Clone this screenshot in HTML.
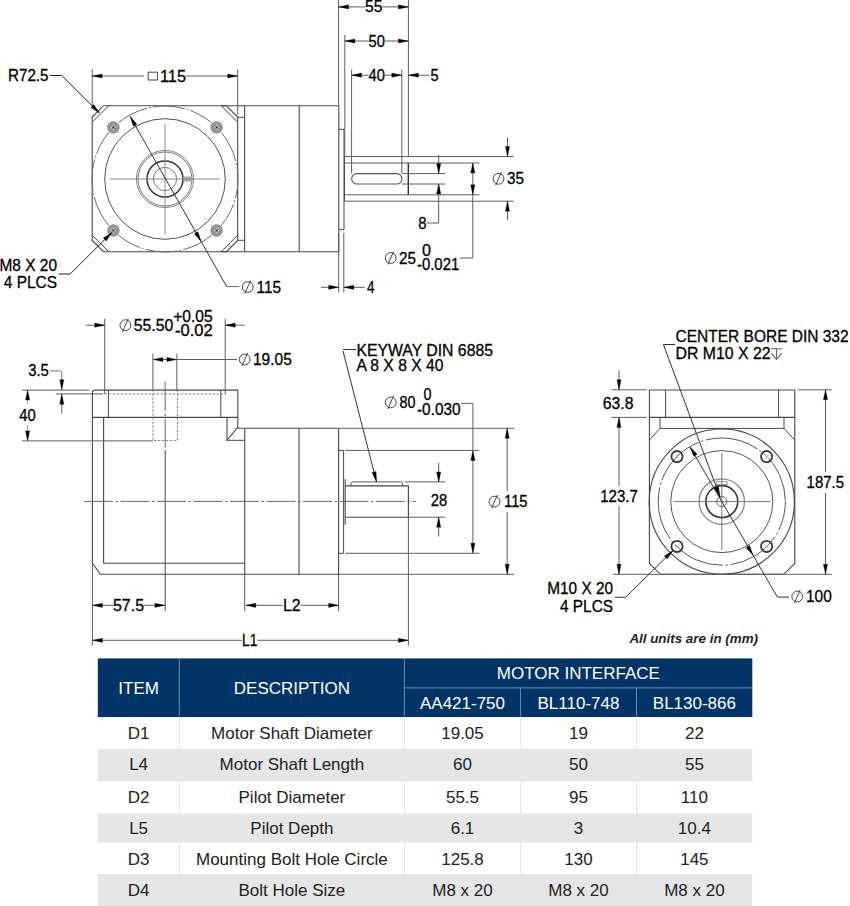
<!DOCTYPE html>
<html><head><meta charset="utf-8"><title>Gearbox drawing</title>
<style>html,body{margin:0;padding:0;background:#fff;} svg{display:block;font-family:"Liberation Sans",sans-serif;}</style>
</head><body>
<svg width="850" height="906" viewBox="0 0 850 906">
<rect width="850" height="906" fill="#fff"/>
<polygon points="103.5,105.7 226.4,105.7 237.7,117.0 237.7,240.4 226.4,251.7 103.5,251.7 92.2,240.4 92.2,117.0" fill="none" stroke="#484848" stroke-width="1.1" />
<line x1="92.2" y1="122.2" x2="108.7" y2="105.7" stroke="#484848" stroke-width="1.0" />
<line x1="221.2" y1="105.7" x2="237.7" y2="122.2" stroke="#484848" stroke-width="1.0" />
<line x1="237.7" y1="235.2" x2="221.2" y2="251.7" stroke="#484848" stroke-width="1.0" />
<line x1="108.7" y1="251.7" x2="92.2" y2="235.2" stroke="#484848" stroke-width="1.0" />
<line x1="221.2" y1="105.7" x2="339.0" y2="105.7" stroke="#484848" stroke-width="1.1" />
<line x1="221.2" y1="251.7" x2="339.0" y2="251.7" stroke="#484848" stroke-width="1.1" />
<circle cx="165.0" cy="179.0" r="73.0" fill="none" stroke="#6a6a6a" stroke-width="1.0" stroke-dasharray="32.2,2,2,2" stroke-dashoffset="12.6"/>
<circle cx="165.0" cy="179.0" r="60.3" fill="none" stroke="#505050" stroke-width="1.0" />
<circle cx="165.0" cy="179.0" r="28.6" fill="none" stroke="#888" stroke-width="1.0" />
<circle cx="165.0" cy="179.0" r="27.0" fill="none" stroke="#777" stroke-width="1.0" />
<circle cx="165.0" cy="179.0" r="18.0" fill="none" stroke="#333" stroke-width="1.5" />
<circle cx="165.0" cy="179.0" r="11.6" fill="none" stroke="#777" stroke-width="1.0" />
<rect x="183.5" y="176.5" width="8" height="5" fill="#aaa"/>
<line x1="110.0" y1="179.0" x2="220.0" y2="179.0" stroke="#888" stroke-width="1.0" />
<line x1="165.0" y1="124.0" x2="165.0" y2="234.0" stroke="#888" stroke-width="1.0" />
<circle cx="113.4" cy="127.4" r="5.7" fill="#979797" stroke="#888" stroke-width="1.0" />
<line x1="110.8" y1="127.4" x2="116.0" y2="127.4" stroke="#d0d0d0" stroke-width="1" />
<line x1="113.4" y1="124.8" x2="113.4" y2="130.0" stroke="#d0d0d0" stroke-width="1" />
<circle cx="113.4" cy="127.4" r="1.0" fill="#222" stroke="none" stroke-width="0" />
<line x1="109.0" y1="123.0" x2="107.5" y2="121.5" stroke="#aaa" stroke-width="1" />
<line x1="117.8" y1="131.8" x2="119.3" y2="133.3" stroke="#aaa" stroke-width="1" />
<circle cx="113.4" cy="230.5" r="5.7" fill="#979797" stroke="#888" stroke-width="1.0" />
<line x1="110.8" y1="230.5" x2="116.0" y2="230.5" stroke="#d0d0d0" stroke-width="1" />
<line x1="113.4" y1="227.9" x2="113.4" y2="233.1" stroke="#d0d0d0" stroke-width="1" />
<circle cx="113.4" cy="230.5" r="1.0" fill="#222" stroke="none" stroke-width="0" />
<line x1="109.0" y1="234.9" x2="107.5" y2="236.4" stroke="#aaa" stroke-width="1" />
<line x1="117.8" y1="226.1" x2="119.3" y2="224.6" stroke="#aaa" stroke-width="1" />
<circle cx="216.6" cy="127.4" r="5.7" fill="#979797" stroke="#888" stroke-width="1.0" />
<line x1="214.0" y1="127.4" x2="219.2" y2="127.4" stroke="#d0d0d0" stroke-width="1" />
<line x1="216.6" y1="124.8" x2="216.6" y2="130.0" stroke="#d0d0d0" stroke-width="1" />
<circle cx="216.6" cy="127.4" r="1.0" fill="#222" stroke="none" stroke-width="0" />
<line x1="221.0" y1="123.0" x2="222.5" y2="121.5" stroke="#aaa" stroke-width="1" />
<line x1="212.2" y1="131.8" x2="210.7" y2="133.3" stroke="#aaa" stroke-width="1" />
<circle cx="216.6" cy="230.5" r="5.7" fill="#979797" stroke="#888" stroke-width="1.0" />
<line x1="214.0" y1="230.5" x2="219.2" y2="230.5" stroke="#d0d0d0" stroke-width="1" />
<line x1="216.6" y1="227.9" x2="216.6" y2="233.1" stroke="#d0d0d0" stroke-width="1" />
<circle cx="216.6" cy="230.5" r="1.0" fill="#222" stroke="none" stroke-width="0" />
<line x1="221.0" y1="234.9" x2="222.5" y2="236.4" stroke="#aaa" stroke-width="1" />
<line x1="212.2" y1="226.1" x2="210.7" y2="224.6" stroke="#aaa" stroke-width="1" />
<line x1="92.2" y1="69.5" x2="92.2" y2="105.7" stroke="#5e5e5e" stroke-width="1.0" />
<line x1="237.7" y1="69.5" x2="237.7" y2="114.7" stroke="#5e5e5e" stroke-width="1.0" />
<line x1="92.2" y1="76.0" x2="144.0" y2="76.0" stroke="#5e5e5e" stroke-width="1.0" />
<line x1="186.0" y1="76.0" x2="237.7" y2="76.0" stroke="#5e5e5e" stroke-width="1.0" />
<polygon points="92.2,76.0 102.2,73.9 102.2,78.1" fill="#000" stroke="#000" stroke-width="0.3" />
<polygon points="237.7,76.0 227.7,78.1 227.7,73.9" fill="#000" stroke="#000" stroke-width="0.3" />
<rect x="148.2" y="72.2" width="9.3" height="7.8" fill="none" stroke="#555" stroke-width="1.1"/>
<text x="160.0" y="81.5" font-size="16.5" text-anchor="start" fill="#000" stroke="#000" stroke-width="0.3" font-weight="normal" font-style="normal" textLength="26.0" lengthAdjust="spacingAndGlyphs">115</text>
<text x="8.0" y="80.7" font-size="16.5" text-anchor="start" fill="#000" stroke="#000" stroke-width="0.3" font-weight="normal" font-style="normal" textLength="40.5" lengthAdjust="spacingAndGlyphs">R72.5</text>
<polyline points="49.8,75.5 61.8,75.5 99.4,113.1" fill="none" stroke="#222" stroke-width="1.0" />
<polygon points="99.4,113.1 90.8,107.5 93.8,104.5" fill="#000" stroke="#000" stroke-width="0.3" />
<line x1="130.2" y1="116.6" x2="226.7" y2="286.6" stroke="#333" stroke-width="1.0" />
<polygon points="130.2,116.6 137.0,124.3 133.3,126.3" fill="#000" stroke="#000" stroke-width="0.3" />
<polygon points="201.1,241.4 194.3,233.8 198.0,231.7" fill="#000" stroke="#000" stroke-width="0.3" />
<line x1="226.6" y1="286.6" x2="239.3" y2="286.6" stroke="#666" stroke-width="1.0" />
<circle cx="247.7" cy="287.0" r="5.4" fill="none" stroke="#444" stroke-width="1.0" />
<line x1="244.8" y1="293.6" x2="250.6" y2="280.4" stroke="#444" stroke-width="1.0" />
<text x="256.5" y="292.5" font-size="16.5" text-anchor="start" fill="#000" stroke="#000" stroke-width="0.3" font-weight="normal" font-style="normal" textLength="24.5" lengthAdjust="spacingAndGlyphs">115</text>
<text x="-0.5" y="270.8" font-size="16.5" text-anchor="start" fill="#000" stroke="#000" stroke-width="0.3" font-weight="normal" font-style="normal" textLength="57.5" lengthAdjust="spacingAndGlyphs">M8 X 20</text>
<text x="3.8" y="288.1" font-size="16.5" text-anchor="start" fill="#000" stroke="#000" stroke-width="0.3" font-weight="normal" font-style="normal" textLength="53.2" lengthAdjust="spacingAndGlyphs">4 PLCS</text>
<polyline points="58.4,274.0 70.2,274.0 111.9,232.5" fill="none" stroke="#222" stroke-width="1.0" />
<polygon points="111.9,232.5 106.3,241.0 103.3,238.1" fill="#000" stroke="#000" stroke-width="0.3" />
<line x1="244.6" y1="105.7" x2="244.6" y2="251.7" stroke="#484848" stroke-width="1.1" />
<line x1="299.2" y1="105.7" x2="299.2" y2="251.7" stroke="#484848" stroke-width="1.1" />
<line x1="338.8" y1="105.7" x2="338.8" y2="251.7" stroke="#484848" stroke-width="1.1" />
<line x1="237.7" y1="117.3" x2="244.6" y2="117.3" stroke="#484848" stroke-width="1.0" />
<line x1="237.7" y1="240.3" x2="244.6" y2="240.3" stroke="#484848" stroke-width="1.0" />
<polyline points="338.8,129.4 344.0,129.4 344.0,229.4 338.8,229.4" fill="none" stroke="#484848" stroke-width="1.0" />
<line x1="344.5" y1="156.5" x2="513.5" y2="156.5" stroke="#5e5e5e" stroke-width="1.0" />
<line x1="344.5" y1="201.2" x2="513.5" y2="201.2" stroke="#5e5e5e" stroke-width="1.0" />
<line x1="344.5" y1="156.5" x2="344.5" y2="201.2" stroke="#484848" stroke-width="1.0" />
<line x1="345.0" y1="163.0" x2="479.4" y2="163.0" stroke="#5e5e5e" stroke-width="1.0" />
<line x1="345.0" y1="194.8" x2="479.4" y2="194.8" stroke="#5e5e5e" stroke-width="1.0" />
<line x1="408.3" y1="163.0" x2="408.3" y2="194.8" stroke="#333" stroke-width="1.4" />
<rect x="351.7" y="173.6" width="50.2" height="10.4" rx="5" fill="none" stroke="#555" stroke-width="1.1"/>
<line x1="402.0" y1="173.6" x2="445.3" y2="173.6" stroke="#5e5e5e" stroke-width="1.0" />
<line x1="402.0" y1="184.0" x2="445.3" y2="184.0" stroke="#5e5e5e" stroke-width="1.0" />
<line x1="338.6" y1="0.0" x2="338.6" y2="105.7" stroke="#5e5e5e" stroke-width="1.0" />
<line x1="408.4" y1="0.0" x2="408.4" y2="156.5" stroke="#5e5e5e" stroke-width="1.0" />
<line x1="338.6" y1="6.9" x2="365.0" y2="6.9" stroke="#5e5e5e" stroke-width="1.0" />
<line x1="382.4" y1="6.9" x2="408.4" y2="6.9" stroke="#5e5e5e" stroke-width="1.0" />
<polygon points="338.6,6.9 348.6,4.8 348.6,9.0" fill="#000" stroke="#000" stroke-width="0.3" />
<polygon points="408.4,6.9 398.4,9.0 398.4,4.8" fill="#000" stroke="#000" stroke-width="0.3" />
<text x="365.0" y="12.4" font-size="16.5" text-anchor="start" fill="#000" stroke="#000" stroke-width="0.3" font-weight="normal" font-style="normal" textLength="17.4" lengthAdjust="spacingAndGlyphs">55</text>
<line x1="344.8" y1="35.0" x2="344.8" y2="156.5" stroke="#5e5e5e" stroke-width="1.0" />
<line x1="344.8" y1="41.0" x2="368.6" y2="41.0" stroke="#5e5e5e" stroke-width="1.0" />
<line x1="385.0" y1="41.0" x2="408.4" y2="41.0" stroke="#5e5e5e" stroke-width="1.0" />
<polygon points="344.8,41.0 354.8,38.9 354.8,43.1" fill="#000" stroke="#000" stroke-width="0.3" />
<polygon points="408.4,41.0 398.4,43.1 398.4,38.9" fill="#000" stroke="#000" stroke-width="0.3" />
<text x="368.6" y="46.5" font-size="16.5" text-anchor="start" fill="#000" stroke="#000" stroke-width="0.3" font-weight="normal" font-style="normal" textLength="16.4" lengthAdjust="spacingAndGlyphs">50</text>
<line x1="351.6" y1="69.6" x2="351.6" y2="173.6" stroke="#5e5e5e" stroke-width="1.0" />
<line x1="401.8" y1="69.6" x2="401.8" y2="173.6" stroke="#5e5e5e" stroke-width="1.0" />
<line x1="351.6" y1="75.2" x2="368.6" y2="75.2" stroke="#5e5e5e" stroke-width="1.0" />
<line x1="385.0" y1="75.2" x2="401.8" y2="75.2" stroke="#5e5e5e" stroke-width="1.0" />
<polygon points="351.6,75.2 361.6,73.1 361.6,77.3" fill="#000" stroke="#000" stroke-width="0.3" />
<polygon points="401.8,75.2 391.8,77.3 391.8,73.1" fill="#000" stroke="#000" stroke-width="0.3" />
<text x="368.6" y="80.7" font-size="16.5" text-anchor="start" fill="#000" stroke="#000" stroke-width="0.3" font-weight="normal" font-style="normal" textLength="16.4" lengthAdjust="spacingAndGlyphs">40</text>
<line x1="408.4" y1="75.2" x2="429.0" y2="75.2" stroke="#5e5e5e" stroke-width="1.0" />
<polygon points="408.4,75.2 418.4,73.1 418.4,77.3" fill="#000" stroke="#000" stroke-width="0.3" />
<text x="430.4" y="80.7" font-size="16.5" text-anchor="start" fill="#000" stroke="#000" stroke-width="0.3" font-weight="normal" font-style="normal" textLength="8.1" lengthAdjust="spacingAndGlyphs">5</text>
<line x1="507.5" y1="137.6" x2="507.5" y2="156.5" stroke="#5e5e5e" stroke-width="1.0" />
<polygon points="507.5,156.5 505.4,146.5 509.6,146.5" fill="#000" stroke="#000" stroke-width="0.3" />
<line x1="507.5" y1="201.2" x2="507.5" y2="220.0" stroke="#5e5e5e" stroke-width="1.0" />
<polygon points="507.5,201.2 509.6,211.2 505.4,211.2" fill="#000" stroke="#000" stroke-width="0.3" />
<circle cx="498.5" cy="178.8" r="5.4" fill="none" stroke="#444" stroke-width="1.0" />
<line x1="495.6" y1="185.4" x2="501.4" y2="172.2" stroke="#444" stroke-width="1.0" />
<text x="507.0" y="184.3" font-size="16.5" text-anchor="start" fill="#000" stroke="#000" stroke-width="0.3" font-weight="normal" font-style="normal" textLength="17.0" lengthAdjust="spacingAndGlyphs">35</text>
<line x1="438.7" y1="154.8" x2="438.7" y2="173.6" stroke="#5e5e5e" stroke-width="1.0" />
<polygon points="438.7,173.6 436.6,163.6 440.8,163.6" fill="#000" stroke="#000" stroke-width="0.3" />
<polyline points="438.7,184.0 438.7,223.0 426.5,223.0" fill="none" stroke="#5e5e5e" stroke-width="1.0" />
<polygon points="438.7,184.0 440.8,194.0 436.6,194.0" fill="#000" stroke="#000" stroke-width="0.3" />
<text x="418.2" y="228.5" font-size="16.5" text-anchor="start" fill="#000" stroke="#000" stroke-width="0.3" font-weight="normal" font-style="normal" textLength="8.3" lengthAdjust="spacingAndGlyphs">8</text>
<polyline points="472.8,163.0 472.8,258.0 460.0,258.0" fill="none" stroke="#5e5e5e" stroke-width="1.0" />
<polygon points="472.8,163.0 474.9,173.0 470.7,173.0" fill="#000" stroke="#000" stroke-width="0.3" />
<polygon points="472.8,194.8 470.7,184.8 474.9,184.8" fill="#000" stroke="#000" stroke-width="0.3" />
<circle cx="390.7" cy="258.0" r="5.4" fill="none" stroke="#444" stroke-width="1.0" />
<line x1="387.8" y1="264.6" x2="393.6" y2="251.4" stroke="#444" stroke-width="1.0" />
<text x="399.0" y="263.5" font-size="16.5" text-anchor="start" fill="#000" stroke="#000" stroke-width="0.3" font-weight="normal" font-style="normal" textLength="17.0" lengthAdjust="spacingAndGlyphs">25</text>
<text x="422.0" y="256.0" font-size="16.5" text-anchor="start" fill="#000" stroke="#000" stroke-width="0.3" font-weight="normal" font-style="normal" textLength="9.0" lengthAdjust="spacingAndGlyphs">0</text>
<text x="417.0" y="269.9" font-size="16.5" text-anchor="start" fill="#000" stroke="#000" stroke-width="0.3" font-weight="normal" font-style="normal" textLength="42.2" lengthAdjust="spacingAndGlyphs">-0.021</text>
<line x1="338.7" y1="233.0" x2="338.7" y2="292.5" stroke="#5e5e5e" stroke-width="1.0" />
<line x1="343.8" y1="233.0" x2="343.8" y2="292.5" stroke="#5e5e5e" stroke-width="1.0" />
<line x1="321.0" y1="287.3" x2="338.7" y2="287.3" stroke="#5e5e5e" stroke-width="1.0" />
<polygon points="338.7,287.3 328.7,289.4 328.7,285.2" fill="#000" stroke="#000" stroke-width="0.3" />
<line x1="343.8" y1="287.3" x2="365.0" y2="287.3" stroke="#5e5e5e" stroke-width="1.0" />
<polygon points="343.8,287.3 353.8,285.2 353.8,289.4" fill="#000" stroke="#000" stroke-width="0.3" />
<text x="367.0" y="292.8" font-size="16.5" text-anchor="start" fill="#000" stroke="#000" stroke-width="0.3" font-weight="normal" font-style="normal" textLength="7.5" lengthAdjust="spacingAndGlyphs">4</text>
<!--VIEW3-->
<path d="M92.4,395 V392.6 Q92.4,390.1 94.9,390.1" fill="none" stroke="#484848" stroke-width="1.1"/>
<polyline points="94.9,390.1 237.8,390.1 237.8,427.3 227.0,440.3 227.0,417.4" fill="none" stroke="#484848" stroke-width="1.1" />
<line x1="92.4" y1="393.1" x2="92.4" y2="563.3" stroke="#484848" stroke-width="1.1" />
<line x1="92.4" y1="417.4" x2="237.8" y2="417.4" stroke="#484848" stroke-width="1.1" />
<line x1="108.4" y1="390.1" x2="108.4" y2="417.4" stroke="#484848" stroke-width="1.0" />
<line x1="220.8" y1="390.1" x2="220.8" y2="417.4" stroke="#484848" stroke-width="1.0" />
<line x1="104.5" y1="393.9" x2="226.0" y2="393.9" stroke="#888" stroke-width="1.0" stroke-dasharray="2.5,1.5"/>
<line x1="227.0" y1="440.3" x2="244.7" y2="440.3" stroke="#484848" stroke-width="1.0" />
<line x1="237.8" y1="428.3" x2="338.6" y2="428.3" stroke="#484848" stroke-width="1.1" />
<line x1="103.6" y1="417.4" x2="103.6" y2="563.3" stroke="#484848" stroke-width="1.1" />
<line x1="103.6" y1="563.3" x2="244.7" y2="563.3" stroke="#484848" stroke-width="1.1" />
<polyline points="92.4,563.3 100.4,574.3 338.6,574.3" fill="none" stroke="#484848" stroke-width="1.1" />
<line x1="244.7" y1="428.3" x2="244.7" y2="574.3" stroke="#484848" stroke-width="1.1" />
<line x1="299.0" y1="428.3" x2="299.0" y2="574.3" stroke="#484848" stroke-width="1.1" />
<line x1="338.6" y1="428.3" x2="338.6" y2="574.3" stroke="#484848" stroke-width="1.1" />
<rect x="153" y="390.1" width="24.5" height="50.4" fill="none" stroke="#888" stroke-width="1" stroke-dasharray="2.5,1.5"/>
<line x1="165.2" y1="382.0" x2="165.2" y2="451.0" stroke="#666" stroke-width="1.0" stroke-dasharray="29,2.5,2.5,2.5"/>
<line x1="165.2" y1="451.0" x2="165.2" y2="611.0" stroke="#444" stroke-width="1.0" />
<line x1="84.0" y1="501.4" x2="416.0" y2="501.4" stroke="#666" stroke-width="1.0" stroke-dasharray="29,2.5,2.5,2.5"/>
<polyline points="338.6,450.4 343.6,450.4 343.6,553.3 338.6,553.3" fill="none" stroke="#484848" stroke-width="1.0" />
<line x1="345.2" y1="479.3" x2="345.2" y2="524.7" stroke="#484848" stroke-width="1.1" />
<polyline points="345.2,485.9 408.4,485.9 408.4,517.2 345.2,517.2" fill="none" stroke="#444" stroke-width="1.1" />
<path d="M351,485.9 V483.5 Q351,481.9 353,481.9 H400.5 Q402.5,481.9 402.5,483.5 V485.9" fill="none" stroke="#555" stroke-width="1"/>
<text x="28.2" y="376.3" font-size="16.5" text-anchor="start" fill="#000" stroke="#000" stroke-width="0.3" font-weight="normal" font-style="normal" textLength="20.6" lengthAdjust="spacingAndGlyphs">3.5</text>
<path d="M50,370.9 H59.8 Q61.8,370.9 61.8,372.9 V389.7" fill="none" stroke="#777" stroke-width="1"/>
<polygon points="61.8,389.8 59.7,379.8 63.9,379.8" fill="#000" stroke="#000" stroke-width="0.3" />
<line x1="61.8" y1="394.2" x2="61.8" y2="413.2" stroke="#5e5e5e" stroke-width="1.0" />
<polygon points="61.8,394.2 63.9,404.2 59.7,404.2" fill="#000" stroke="#000" stroke-width="0.3" />
<line x1="21.8" y1="390.1" x2="89.4" y2="390.1" stroke="#5e5e5e" stroke-width="1.0" />
<line x1="55.9" y1="393.9" x2="103.0" y2="393.9" stroke="#5e5e5e" stroke-width="1.0" />
<line x1="21.8" y1="440.9" x2="153.0" y2="440.9" stroke="#5e5e5e" stroke-width="1.0" />
<line x1="27.6" y1="390.1" x2="27.6" y2="404.0" stroke="#999" stroke-width="1.0" />
<line x1="27.6" y1="425.0" x2="27.6" y2="440.9" stroke="#999" stroke-width="1.0" />
<polygon points="27.6,390.1 29.7,400.1 25.5,400.1" fill="#000" stroke="#000" stroke-width="0.3" />
<polygon points="27.6,440.9 25.5,430.9 29.7,430.9" fill="#000" stroke="#000" stroke-width="0.3" />
<text x="19.2" y="420.5" font-size="16.5" text-anchor="start" fill="#000" stroke="#000" stroke-width="0.3" font-weight="normal" font-style="normal" textLength="16.4" lengthAdjust="spacingAndGlyphs">40</text>
<line x1="104.7" y1="318.8" x2="104.7" y2="393.9" stroke="#5e5e5e" stroke-width="1.0" />
<line x1="225.2" y1="318.8" x2="225.2" y2="393.9" stroke="#5e5e5e" stroke-width="1.0" />
<line x1="85.8" y1="325.2" x2="104.7" y2="325.2" stroke="#5e5e5e" stroke-width="1.0" />
<polygon points="104.7,325.2 94.7,327.3 94.7,323.1" fill="#000" stroke="#000" stroke-width="0.3" />
<line x1="225.2" y1="325.2" x2="244.7" y2="325.2" stroke="#5e5e5e" stroke-width="1.0" />
<polygon points="225.2,325.2 235.2,323.1 235.2,327.3" fill="#000" stroke="#000" stroke-width="0.3" />
<circle cx="125.4" cy="325.2" r="5.4" fill="none" stroke="#444" stroke-width="1.0" />
<line x1="122.5" y1="331.8" x2="128.3" y2="318.6" stroke="#444" stroke-width="1.0" />
<text x="133.7" y="330.7" font-size="16.5" text-anchor="start" fill="#000" stroke="#000" stroke-width="0.3" font-weight="normal" font-style="normal" textLength="39.5" lengthAdjust="spacingAndGlyphs">55.50</text>
<text x="173.2" y="322.0" font-size="16.5" text-anchor="start" fill="#000" stroke="#000" stroke-width="0.3" font-weight="normal" font-style="normal" textLength="39.5" lengthAdjust="spacingAndGlyphs">+0.05</text>
<text x="175.0" y="336.0" font-size="16.5" text-anchor="start" fill="#000" stroke="#000" stroke-width="0.3" font-weight="normal" font-style="normal" textLength="37.7" lengthAdjust="spacingAndGlyphs">-0.02</text>
<line x1="152.9" y1="353.5" x2="152.9" y2="390.1" stroke="#5e5e5e" stroke-width="1.0" />
<line x1="176.8" y1="353.5" x2="176.8" y2="390.1" stroke="#5e5e5e" stroke-width="1.0" />
<line x1="162.0" y1="359.5" x2="167.0" y2="359.5" stroke="#5e5e5e" stroke-width="1.0" />
<polygon points="152.9,359.5 162.9,357.4 162.9,361.6" fill="#000" stroke="#000" stroke-width="0.3" />
<polygon points="176.8,359.5 166.8,361.6 166.8,357.4" fill="#000" stroke="#000" stroke-width="0.3" />
<line x1="176.8" y1="359.5" x2="237.0" y2="359.5" stroke="#5e5e5e" stroke-width="1.0" />
<circle cx="244.7" cy="359.5" r="5.4" fill="none" stroke="#444" stroke-width="1.0" />
<line x1="241.8" y1="366.1" x2="247.6" y2="352.9" stroke="#444" stroke-width="1.0" />
<text x="253.0" y="365.0" font-size="16.5" text-anchor="start" fill="#000" stroke="#000" stroke-width="0.3" font-weight="normal" font-style="normal" textLength="38.8" lengthAdjust="spacingAndGlyphs">19.05</text>
<line x1="92.4" y1="563.0" x2="92.4" y2="645.6" stroke="#5e5e5e" stroke-width="1.0" />
<line x1="92.5" y1="605.3" x2="113.0" y2="605.3" stroke="#5e5e5e" stroke-width="1.0" />
<line x1="144.0" y1="605.3" x2="164.7" y2="605.3" stroke="#5e5e5e" stroke-width="1.0" />
<polygon points="92.5,605.3 102.5,603.2 102.5,607.4" fill="#000" stroke="#000" stroke-width="0.3" />
<polygon points="164.9,605.3 154.9,607.4 154.9,603.2" fill="#000" stroke="#000" stroke-width="0.3" />
<text x="113.0" y="610.8" font-size="16.5" text-anchor="start" fill="#000" stroke="#000" stroke-width="0.3" font-weight="normal" font-style="normal" textLength="31.0" lengthAdjust="spacingAndGlyphs">57.5</text>
<line x1="244.7" y1="574.0" x2="244.7" y2="611.5" stroke="#5e5e5e" stroke-width="1.0" />
<line x1="338.6" y1="574.0" x2="338.6" y2="611.5" stroke="#5e5e5e" stroke-width="1.0" />
<line x1="245.8" y1="605.3" x2="283.0" y2="605.3" stroke="#5e5e5e" stroke-width="1.0" />
<line x1="300.6" y1="605.3" x2="338.6" y2="605.3" stroke="#5e5e5e" stroke-width="1.0" />
<polygon points="245.8,605.3 255.8,603.2 255.8,607.4" fill="#000" stroke="#000" stroke-width="0.3" />
<polygon points="338.6,605.3 328.6,607.4 328.6,603.2" fill="#000" stroke="#000" stroke-width="0.3" />
<text x="283.0" y="610.8" font-size="16.5" text-anchor="start" fill="#000" stroke="#000" stroke-width="0.3" font-weight="normal" font-style="normal" textLength="17.6" lengthAdjust="spacingAndGlyphs">L2</text>
<line x1="408.4" y1="517.2" x2="408.4" y2="645.6" stroke="#5e5e5e" stroke-width="1.0" />
<line x1="92.5" y1="640.3" x2="242.0" y2="640.3" stroke="#5e5e5e" stroke-width="1.0" />
<line x1="257.4" y1="640.3" x2="408.4" y2="640.3" stroke="#5e5e5e" stroke-width="1.0" />
<polygon points="92.5,640.3 102.5,638.2 102.5,642.4" fill="#000" stroke="#000" stroke-width="0.3" />
<polygon points="408.4,640.3 398.4,642.4 398.4,638.2" fill="#000" stroke="#000" stroke-width="0.3" />
<text x="242.0" y="645.8" font-size="16.5" text-anchor="start" fill="#000" stroke="#000" stroke-width="0.3" font-weight="normal" font-style="normal" textLength="15.4" lengthAdjust="spacingAndGlyphs">L1</text>
<text x="356.4" y="356.0" font-size="16.5" text-anchor="start" fill="#000" stroke="#000" stroke-width="0.3" font-weight="normal" font-style="normal" textLength="136.6" lengthAdjust="spacingAndGlyphs">KEYWAY DIN 6885</text>
<text x="356.4" y="370.8" font-size="16.5" text-anchor="start" fill="#000" stroke="#000" stroke-width="0.3" font-weight="normal" font-style="normal" textLength="87.0" lengthAdjust="spacingAndGlyphs">A 8 X 8 X 40</text>
<line x1="343.0" y1="349.5" x2="356.0" y2="349.5" stroke="#333" stroke-width="1.0" />
<line x1="343.0" y1="351.0" x2="376.5" y2="481.8" stroke="#333" stroke-width="1.0" />
<polygon points="376.5,481.8 372.0,472.6 376.1,471.6" fill="#000" stroke="#000" stroke-width="0.3" />
<circle cx="390.7" cy="402.4" r="5.4" fill="none" stroke="#444" stroke-width="1.0" />
<line x1="387.8" y1="409.0" x2="393.6" y2="395.8" stroke="#444" stroke-width="1.0" />
<text x="399.4" y="407.9" font-size="16.5" text-anchor="start" fill="#000" stroke="#000" stroke-width="0.3" font-weight="normal" font-style="normal" textLength="16.0" lengthAdjust="spacingAndGlyphs">80</text>
<text x="423.4" y="399.8" font-size="16.5" text-anchor="start" fill="#000" stroke="#000" stroke-width="0.3" font-weight="normal" font-style="normal" textLength="8.0" lengthAdjust="spacingAndGlyphs">0</text>
<text x="417.0" y="414.7" font-size="16.5" text-anchor="start" fill="#000" stroke="#000" stroke-width="0.3" font-weight="normal" font-style="normal" textLength="43.6" lengthAdjust="spacingAndGlyphs">-0.030</text>
<polyline points="461.0,403.4 472.9,403.4 472.9,553.3" fill="none" stroke="#5e5e5e" stroke-width="1.0" />
<polygon points="472.9,450.4 475.0,460.4 470.8,460.4" fill="#000" stroke="#000" stroke-width="0.3" />
<polygon points="472.9,553.3 470.8,543.3 475.0,543.3" fill="#000" stroke="#000" stroke-width="0.3" />
<line x1="345.3" y1="450.4" x2="479.4" y2="450.4" stroke="#5e5e5e" stroke-width="1.0" />
<line x1="345.3" y1="553.3" x2="479.4" y2="553.3" stroke="#5e5e5e" stroke-width="1.0" />
<line x1="404.8" y1="481.9" x2="445.3" y2="481.9" stroke="#5e5e5e" stroke-width="1.0" />
<line x1="408.8" y1="517.2" x2="445.3" y2="517.2" stroke="#5e5e5e" stroke-width="1.0" />
<line x1="438.7" y1="463.0" x2="438.7" y2="481.9" stroke="#5e5e5e" stroke-width="1.0" />
<polygon points="438.7,481.9 436.6,471.9 440.8,471.9" fill="#000" stroke="#000" stroke-width="0.3" />
<line x1="438.7" y1="517.2" x2="438.7" y2="536.5" stroke="#5e5e5e" stroke-width="1.0" />
<polygon points="438.7,517.2 440.8,527.2 436.6,527.2" fill="#000" stroke="#000" stroke-width="0.3" />
<text x="430.7" y="505.7" font-size="16.5" text-anchor="start" fill="#000" stroke="#000" stroke-width="0.3" font-weight="normal" font-style="normal" textLength="16.5" lengthAdjust="spacingAndGlyphs">28</text>
<line x1="338.6" y1="428.3" x2="514.0" y2="428.3" stroke="#5e5e5e" stroke-width="1.0" />
<line x1="338.6" y1="574.3" x2="514.0" y2="574.3" stroke="#5e5e5e" stroke-width="1.0" />
<line x1="507.2" y1="428.3" x2="507.2" y2="491.0" stroke="#5e5e5e" stroke-width="1.0" />
<line x1="507.2" y1="512.0" x2="507.2" y2="574.3" stroke="#5e5e5e" stroke-width="1.0" />
<polygon points="507.2,428.3 509.3,438.3 505.1,438.3" fill="#000" stroke="#000" stroke-width="0.3" />
<polygon points="507.2,574.3 505.1,564.3 509.3,564.3" fill="#000" stroke="#000" stroke-width="0.3" />
<circle cx="494.5" cy="501.6" r="5.4" fill="none" stroke="#444" stroke-width="1.0" />
<line x1="491.6" y1="508.2" x2="497.4" y2="495.0" stroke="#444" stroke-width="1.0" />
<text x="504.0" y="507.1" font-size="16.5" text-anchor="start" fill="#000" stroke="#000" stroke-width="0.3" font-weight="normal" font-style="normal" textLength="23.6" lengthAdjust="spacingAndGlyphs">115</text>
<!--VIEW4-->
<polygon points="649.4,390.0 794.8,390.0 794.8,563.5 783.6,574.3 660.6,574.3 649.4,563.5" fill="none" stroke="#484848" stroke-width="1.1" />
<line x1="649.4" y1="417.4" x2="794.8" y2="417.4" stroke="#484848" stroke-width="1.1" />
<line x1="665.6" y1="390.0" x2="665.6" y2="417.4" stroke="#484848" stroke-width="1.0" />
<line x1="778.6" y1="390.0" x2="778.6" y2="417.4" stroke="#484848" stroke-width="1.0" />
<polyline points="649.4,440.0 660.0,428.4 660.0,417.4" fill="none" stroke="#484848" stroke-width="1.0" />
<polyline points="794.8,440.0 784.0,428.4 784.0,417.4" fill="none" stroke="#484848" stroke-width="1.0" />
<line x1="660.0" y1="428.4" x2="784.0" y2="428.4" stroke="#484848" stroke-width="1.0" />
<circle cx="721.8" cy="501.6" r="72.6" fill="none" stroke="#444" stroke-width="1.1" />
<circle cx="721.8" cy="501.6" r="63.6" fill="none" stroke="#555" stroke-width="1.0" stroke-dasharray="54,2.5,2.5,2.5" stroke-dashoffset="24.5"/>
<circle cx="721.8" cy="501.6" r="51.0" fill="none" stroke="#555" stroke-width="1.0" />
<circle cx="721.8" cy="501.6" r="22.7" fill="none" stroke="#8a8a8a" stroke-width="1.3" />
<circle cx="721.8" cy="501.6" r="16.0" fill="none" stroke="#333" stroke-width="1.6" />
<circle cx="721.8" cy="501.6" r="5.1" fill="none" stroke="#666" stroke-width="1.0" />
<rect x="716.3" y="481.7" width="10.8" height="3" fill="none" stroke="#888" stroke-width="0.9"/>
<line x1="673.6" y1="501.6" x2="770.0" y2="501.6" stroke="#777" stroke-width="1.0" />
<line x1="721.8" y1="453.0" x2="721.8" y2="550.0" stroke="#777" stroke-width="1.0" />
<circle cx="677.0" cy="456.6" r="5.6" fill="none" stroke="#3a3a3a" stroke-width="1.8" />
<line x1="674.7" y1="454.3" x2="679.3" y2="458.9" stroke="#999" stroke-width="0.8" />
<line x1="674.7" y1="458.9" x2="679.3" y2="454.3" stroke="#999" stroke-width="0.8" />
<circle cx="677.0" cy="546.4" r="5.6" fill="none" stroke="#3a3a3a" stroke-width="1.8" />
<line x1="674.7" y1="544.1" x2="679.3" y2="548.7" stroke="#999" stroke-width="0.8" />
<line x1="674.7" y1="548.7" x2="679.3" y2="544.1" stroke="#999" stroke-width="0.8" />
<circle cx="766.6" cy="456.6" r="5.6" fill="none" stroke="#3a3a3a" stroke-width="1.8" />
<line x1="764.3" y1="454.3" x2="768.9" y2="458.9" stroke="#999" stroke-width="0.8" />
<line x1="764.3" y1="458.9" x2="768.9" y2="454.3" stroke="#999" stroke-width="0.8" />
<circle cx="766.6" cy="546.4" r="5.6" fill="none" stroke="#3a3a3a" stroke-width="1.8" />
<line x1="764.3" y1="544.1" x2="768.9" y2="548.7" stroke="#999" stroke-width="0.8" />
<line x1="764.3" y1="548.7" x2="768.9" y2="544.1" stroke="#999" stroke-width="0.8" />
<line x1="611.4" y1="389.8" x2="646.6" y2="389.8" stroke="#5e5e5e" stroke-width="1.0" />
<line x1="611.4" y1="417.4" x2="646.6" y2="417.4" stroke="#5e5e5e" stroke-width="1.0" />
<line x1="798.0" y1="389.8" x2="831.7" y2="389.8" stroke="#5e5e5e" stroke-width="1.0" />
<line x1="613.0" y1="574.3" x2="831.7" y2="574.3" stroke="#5e5e5e" stroke-width="1.0" />
<line x1="619.0" y1="370.5" x2="619.0" y2="389.8" stroke="#5e5e5e" stroke-width="1.0" />
<polygon points="619.0,389.8 616.9,379.8 621.1,379.8" fill="#000" stroke="#000" stroke-width="0.3" />
<text x="602.8" y="408.7" font-size="16.5" text-anchor="start" fill="#000" stroke="#000" stroke-width="0.3" font-weight="normal" font-style="normal" textLength="30.6" lengthAdjust="spacingAndGlyphs">63.8</text>
<line x1="619.0" y1="417.4" x2="619.0" y2="486.0" stroke="#5e5e5e" stroke-width="1.0" />
<line x1="619.0" y1="506.0" x2="619.0" y2="574.3" stroke="#5e5e5e" stroke-width="1.0" />
<polygon points="619.0,417.4 621.1,427.4 616.9,427.4" fill="#000" stroke="#000" stroke-width="0.3" />
<polygon points="619.0,574.3 616.9,564.3 621.1,564.3" fill="#000" stroke="#000" stroke-width="0.3" />
<text x="600.2" y="502.1" font-size="16.5" text-anchor="start" fill="#000" stroke="#000" stroke-width="0.3" font-weight="normal" font-style="normal" textLength="37.6" lengthAdjust="spacingAndGlyphs">123.7</text>
<line x1="825.5" y1="389.8" x2="825.5" y2="472.0" stroke="#5e5e5e" stroke-width="1.0" />
<line x1="825.5" y1="493.0" x2="825.5" y2="574.3" stroke="#5e5e5e" stroke-width="1.0" />
<polygon points="825.5,389.8 827.6,399.8 823.4,399.8" fill="#000" stroke="#000" stroke-width="0.3" />
<polygon points="825.5,574.3 823.4,564.3 827.6,564.3" fill="#000" stroke="#000" stroke-width="0.3" />
<text x="806.6" y="488.1" font-size="16.5" text-anchor="start" fill="#000" stroke="#000" stroke-width="0.3" font-weight="normal" font-style="normal" textLength="37.4" lengthAdjust="spacingAndGlyphs">187.5</text>
<text x="675.6" y="341.5" font-size="16.5" text-anchor="start" fill="#000" stroke="#000" stroke-width="0.3" font-weight="normal" font-style="normal" textLength="173.0" lengthAdjust="spacingAndGlyphs">CENTER BORE DIN 332</text>
<text x="675.6" y="359.1" font-size="16.5" text-anchor="start" fill="#000" stroke="#000" stroke-width="0.3" font-weight="normal" font-style="normal" textLength="95.0" lengthAdjust="spacingAndGlyphs">DR M10 X 22</text>
<path d="M771,348.8 H782 M776.5,348.8 V359.4 M771.3,353.3 L776.5,359.4 L781.7,353.3" fill="none" stroke="#666" stroke-width="1.1"/>
<line x1="663.4" y1="344.5" x2="675.0" y2="344.5" stroke="#333" stroke-width="1.0" />
<line x1="663.4" y1="344.5" x2="720.2" y2="497.5" stroke="#333" stroke-width="1.0" />
<polygon points="720.2,497.5 714.0,488.1 718.5,486.4" fill="#000" stroke="#000" stroke-width="0.3" />
<line x1="690.0" y1="447.0" x2="777.4" y2="597.1" stroke="#333" stroke-width="1.0" />
<polygon points="690.0,447.0 697.3,454.2 693.8,456.5" fill="#000" stroke="#000" stroke-width="0.3" />
<polygon points="753.1,555.2 746.0,547.8 749.6,545.6" fill="#000" stroke="#000" stroke-width="0.3" />
<line x1="777.4" y1="597.1" x2="789.0" y2="597.1" stroke="#333" stroke-width="1.0" />
<circle cx="797.3" cy="596.5" r="5.4" fill="none" stroke="#444" stroke-width="1.0" />
<line x1="794.4" y1="603.1" x2="800.2" y2="589.9" stroke="#444" stroke-width="1.0" />
<text x="806.0" y="602.0" font-size="16.5" text-anchor="start" fill="#000" stroke="#000" stroke-width="0.3" font-weight="normal" font-style="normal" textLength="25.7" lengthAdjust="spacingAndGlyphs">100</text>
<text x="547.3" y="593.5" font-size="16.5" text-anchor="start" fill="#000" stroke="#000" stroke-width="0.3" font-weight="normal" font-style="normal" textLength="65.7" lengthAdjust="spacingAndGlyphs">M10 X 20</text>
<text x="560.0" y="612.2" font-size="16.5" text-anchor="start" fill="#000" stroke="#000" stroke-width="0.3" font-weight="normal" font-style="normal" textLength="53.0" lengthAdjust="spacingAndGlyphs">4 PLCS</text>
<polyline points="614.8,597.3 625.7,597.3 673.0,550.5" fill="none" stroke="#333" stroke-width="1.0" />
<polygon points="673.0,550.5 667.2,558.9 664.3,555.9" fill="#000" stroke="#000" stroke-width="0.3" />
<text x="629.4" y="643.1" font-size="13" text-anchor="start" fill="#222" stroke="#222" stroke-width="0" font-weight="bold" font-style="italic" textLength="128.6" lengthAdjust="spacingAndGlyphs">All units are in (mm)</text>
<!--TABLE-->
<rect x="97.8" y="658.4" width="654.5" height="58.6" fill="#003366"/>
<rect x="97.8" y="717" width="654.5" height="31.7" fill="#ffffff"/>
<line x1="179.3" y1="717.0" x2="179.3" y2="748.7" stroke="#e4e4e4" stroke-width="1" />
<line x1="404.4" y1="717.0" x2="404.4" y2="748.7" stroke="#e4e4e4" stroke-width="1" />
<line x1="520.6" y1="717.0" x2="520.6" y2="748.7" stroke="#e4e4e4" stroke-width="1" />
<line x1="636.5" y1="717.0" x2="636.5" y2="748.7" stroke="#e4e4e4" stroke-width="1" />
<rect x="97.8" y="748.7" width="654.5" height="32.9" fill="#e6e6e6"/>
<rect x="97.8" y="781.6" width="654.5" height="32.0" fill="#ffffff"/>
<line x1="179.3" y1="781.6" x2="179.3" y2="813.6" stroke="#e4e4e4" stroke-width="1" />
<line x1="404.4" y1="781.6" x2="404.4" y2="813.6" stroke="#e4e4e4" stroke-width="1" />
<line x1="520.6" y1="781.6" x2="520.6" y2="813.6" stroke="#e4e4e4" stroke-width="1" />
<line x1="636.5" y1="781.6" x2="636.5" y2="813.6" stroke="#e4e4e4" stroke-width="1" />
<rect x="97.8" y="813.6" width="654.5" height="29.1" fill="#e6e6e6"/>
<rect x="97.8" y="842.7" width="654.5" height="31.2" fill="#ffffff"/>
<line x1="179.3" y1="842.7" x2="179.3" y2="873.9" stroke="#e4e4e4" stroke-width="1" />
<line x1="404.4" y1="842.7" x2="404.4" y2="873.9" stroke="#e4e4e4" stroke-width="1" />
<line x1="520.6" y1="842.7" x2="520.6" y2="873.9" stroke="#e4e4e4" stroke-width="1" />
<line x1="636.5" y1="842.7" x2="636.5" y2="873.9" stroke="#e4e4e4" stroke-width="1" />
<rect x="97.8" y="873.9" width="654.5" height="32.1" fill="#e6e6e6"/>
<line x1="179.3" y1="658.4" x2="179.3" y2="716.6" stroke="#6f8cab" stroke-width="1" />
<line x1="404.4" y1="658.4" x2="404.4" y2="716.6" stroke="#6f8cab" stroke-width="1" />
<line x1="520.6" y1="687.9" x2="520.6" y2="716.6" stroke="#6f8cab" stroke-width="1" />
<line x1="636.5" y1="687.9" x2="636.5" y2="716.6" stroke="#6f8cab" stroke-width="1" />
<line x1="404.4" y1="687.9" x2="752.3" y2="687.9" stroke="#6f8cab" stroke-width="1" />
<text x="138.6" y="694.0" font-size="17" text-anchor="middle" fill="#fff" stroke="#fff" stroke-width="0" font-weight="normal" font-style="normal">ITEM</text>
<text x="291.9" y="694.0" font-size="17" text-anchor="middle" fill="#fff" stroke="#fff" stroke-width="0" font-weight="normal" font-style="normal">DESCRIPTION</text>
<text x="578.3" y="679.0" font-size="17" text-anchor="middle" fill="#fff" stroke="#fff" stroke-width="0" font-weight="normal" font-style="normal">MOTOR INTERFACE</text>
<text x="462.5" y="709.0" font-size="17" text-anchor="middle" fill="#fff" stroke="#fff" stroke-width="0" font-weight="normal" font-style="normal">AA421-750</text>
<text x="578.5" y="709.0" font-size="17" text-anchor="middle" fill="#fff" stroke="#fff" stroke-width="0" font-weight="normal" font-style="normal">BL110-748</text>
<text x="694.4" y="709.0" font-size="17" text-anchor="middle" fill="#fff" stroke="#fff" stroke-width="0" font-weight="normal" font-style="normal">BL130-866</text>
<text x="138.6" y="739.0" font-size="17" text-anchor="middle" fill="#222" stroke="#222" stroke-width="0" font-weight="normal" font-style="normal">D1</text>
<text x="291.9" y="739.0" font-size="17" text-anchor="middle" fill="#222" stroke="#222" stroke-width="0" font-weight="normal" font-style="normal">Motor Shaft Diameter</text>
<text x="462.5" y="739.0" font-size="17" text-anchor="middle" fill="#222" stroke="#222" stroke-width="0" font-weight="normal" font-style="normal">19.05</text>
<text x="578.5" y="739.0" font-size="17" text-anchor="middle" fill="#222" stroke="#222" stroke-width="0" font-weight="normal" font-style="normal">19</text>
<text x="694.4" y="739.0" font-size="17" text-anchor="middle" fill="#222" stroke="#222" stroke-width="0" font-weight="normal" font-style="normal">22</text>
<text x="138.6" y="769.6" font-size="17" text-anchor="middle" fill="#222" stroke="#222" stroke-width="0" font-weight="normal" font-style="normal">L4</text>
<text x="291.9" y="769.6" font-size="17" text-anchor="middle" fill="#222" stroke="#222" stroke-width="0" font-weight="normal" font-style="normal">Motor Shaft Length</text>
<text x="462.5" y="769.6" font-size="17" text-anchor="middle" fill="#222" stroke="#222" stroke-width="0" font-weight="normal" font-style="normal">60</text>
<text x="578.5" y="769.6" font-size="17" text-anchor="middle" fill="#222" stroke="#222" stroke-width="0" font-weight="normal" font-style="normal">50</text>
<text x="694.4" y="769.6" font-size="17" text-anchor="middle" fill="#222" stroke="#222" stroke-width="0" font-weight="normal" font-style="normal">55</text>
<text x="138.6" y="803.2" font-size="17" text-anchor="middle" fill="#222" stroke="#222" stroke-width="0" font-weight="normal" font-style="normal">D2</text>
<text x="291.9" y="803.2" font-size="17" text-anchor="middle" fill="#222" stroke="#222" stroke-width="0" font-weight="normal" font-style="normal">Pilot Diameter</text>
<text x="462.5" y="803.2" font-size="17" text-anchor="middle" fill="#222" stroke="#222" stroke-width="0" font-weight="normal" font-style="normal">55.5</text>
<text x="578.5" y="803.2" font-size="17" text-anchor="middle" fill="#222" stroke="#222" stroke-width="0" font-weight="normal" font-style="normal">95</text>
<text x="694.4" y="803.2" font-size="17" text-anchor="middle" fill="#222" stroke="#222" stroke-width="0" font-weight="normal" font-style="normal">110</text>
<text x="138.6" y="834.0" font-size="17" text-anchor="middle" fill="#222" stroke="#222" stroke-width="0" font-weight="normal" font-style="normal">L5</text>
<text x="291.9" y="834.0" font-size="17" text-anchor="middle" fill="#222" stroke="#222" stroke-width="0" font-weight="normal" font-style="normal">Pilot Depth</text>
<text x="462.5" y="834.0" font-size="17" text-anchor="middle" fill="#222" stroke="#222" stroke-width="0" font-weight="normal" font-style="normal">6.1</text>
<text x="578.5" y="834.0" font-size="17" text-anchor="middle" fill="#222" stroke="#222" stroke-width="0" font-weight="normal" font-style="normal">3</text>
<text x="694.4" y="834.0" font-size="17" text-anchor="middle" fill="#222" stroke="#222" stroke-width="0" font-weight="normal" font-style="normal">10.4</text>
<text x="138.6" y="864.6" font-size="17" text-anchor="middle" fill="#222" stroke="#222" stroke-width="0" font-weight="normal" font-style="normal">D3</text>
<text x="291.9" y="864.6" font-size="17" text-anchor="middle" fill="#222" stroke="#222" stroke-width="0" font-weight="normal" font-style="normal">Mounting Bolt Hole Circle</text>
<text x="462.5" y="864.6" font-size="17" text-anchor="middle" fill="#222" stroke="#222" stroke-width="0" font-weight="normal" font-style="normal">125.8</text>
<text x="578.5" y="864.6" font-size="17" text-anchor="middle" fill="#222" stroke="#222" stroke-width="0" font-weight="normal" font-style="normal">130</text>
<text x="694.4" y="864.6" font-size="17" text-anchor="middle" fill="#222" stroke="#222" stroke-width="0" font-weight="normal" font-style="normal">145</text>
<text x="138.6" y="895.6" font-size="17" text-anchor="middle" fill="#222" stroke="#222" stroke-width="0" font-weight="normal" font-style="normal">D4</text>
<text x="291.9" y="895.6" font-size="17" text-anchor="middle" fill="#222" stroke="#222" stroke-width="0" font-weight="normal" font-style="normal">Bolt Hole Size</text>
<text x="462.5" y="895.6" font-size="17" text-anchor="middle" fill="#222" stroke="#222" stroke-width="0" font-weight="normal" font-style="normal">M8 x 20</text>
<text x="578.5" y="895.6" font-size="17" text-anchor="middle" fill="#222" stroke="#222" stroke-width="0" font-weight="normal" font-style="normal">M8 x 20</text>
<text x="694.4" y="895.6" font-size="17" text-anchor="middle" fill="#222" stroke="#222" stroke-width="0" font-weight="normal" font-style="normal">M8 x 20</text>
</svg>
</body></html>
